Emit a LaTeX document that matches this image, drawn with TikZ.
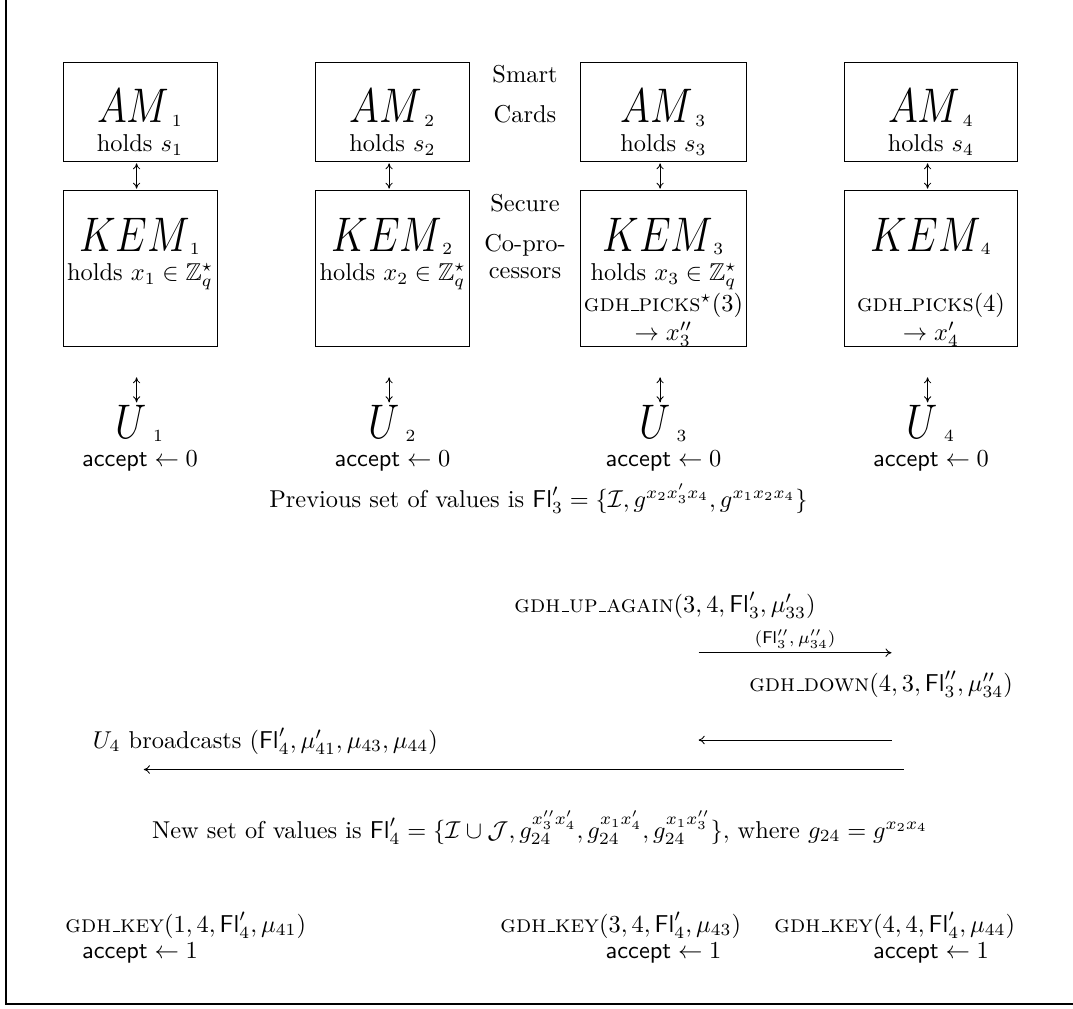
\documentclass[tikz,border=0pt]{standalone}
\usepackage{amsmath,amssymb}
\usepackage{graphicx}
\usepackage{tikz}
\usetikzlibrary{arrows.meta}
\newcommand{\hugeit}[1]{\scalebox{0.8}[0.96]{\huge$#1$}}
\newcommand{\undsc}{\leavevmode\kern.06em\vbox{\hrule width.3em}}

\begin{document}
\begin{tikzpicture}[x=0.41pt,y=-0.41pt,
  box/.style={draw,inner sep=0pt,line width=0.4pt},
  tx/.style={anchor=base,inner sep=0pt},
  ud/.style={{To[length=2.5pt,width=3pt]}-{To[length=2.5pt,width=3pt]},line width=0.35pt},
  msg/.style={-{To[length=2.5pt,width=3.5pt]},line width=0.35pt}]
\useasboundingbox (0,0) rectangle (1073,1008);
\draw[line width=0.6pt] (6,0) -- (6,1004) -- (1073,1004);
% one column per participant
\foreach \i/\cx/\w in {1/140/154,2/392.5/154,3/663.5/166,4/931/173}{
  \node[box,minimum width=\w*0.41pt,minimum height=40.6pt] (am\i) at (\cx,111.8) {};
  \node[tx] (amt\i) at ([yshift=-25pt]am\i.north) {\hugeit{AM}\kern1pt$_{\i}$};
  \node[tx] (amh\i) at ([yshift=-36.9pt]am\i.north) {holds $s_{\i}$};
  \node[box,minimum width=\w*0.41pt,minimum height=63.9pt] (kem\i) at (\cx,268.6) {};
  \node[tx] (kemt\i) at ([yshift=-25pt]kem\i.north) {\hugeit{KEM}$_{\i}$};
  \node[tx] (u\i) at (\cx,438) {\hugeit{U}\kern2.5pt$_{\i}$};
  \node[tx] (acc\i) at (\cx,466) {$\textsf{accept}\leftarrow 0$};
  \draw[ud] ([xshift=-1.4pt,yshift=-0.6pt]am\i.south) -- ([xshift=-1.4pt,yshift=0.6pt]kem\i.north);
  \draw[ud] ([xshift=-1.4pt,yshift=-12.4pt]kem\i.south) -- ([xshift=-1.4pt,yshift=0.8pt]u\i.north);
}
\foreach \i in {1,2,3}
  \node[tx] (kemh\i) at ([yshift=-37pt]kem\i.north) {holds $x_{\i}\in\mathbb{Z}_q^\star$};
\node[tx] (pick3) at ([yshift=-49.7pt]kem3.north) {\textsc{gdh\undsc picks}$^\star(3)$};
\node[tx] (out3) at ([yshift=-61.6pt]kem3.north) {$\rightarrow x''_3$};
\node[tx] (pick4) at ([yshift=-49.7pt]kem4.north) {\textsc{gdh\undsc picks}$(4)$};
\node[tx] (out4) at ([yshift=-61.6pt]kem4.north) {$\rightarrow x'_4$};
% row labels
\node[tx] (smart) at (525,82) {Smart};
\node[tx] (cards) at (525,122) {Cards};
\node[tx] (secure) at (525,211) {Secure};
\node[tx] (copro) at (525,251) {Co-pro-};
\node[tx] (cessors) at (525,278) {cessors};
\node[tx] (prev) at (538.5,507) {Previous set of values is $\mathsf{Fl}'_3=\{\mathcal{I},g^{x_2x'_3x_4},g^{x_1x_2x_4}\}$};
% messages
\node[tx,anchor=base west] (upagain) at (514,612) {\textsc{gdh\undsc up\undsc again}$(3,4,\mathsf{Fl}'_3,\mu'_{33})$};
\coordinate (s3) at (698.6,652.7);
\coordinate (r4) at (891.5,652.7);
\draw[msg] (s3) -- node[above,inner sep=1.5pt,font=\scriptsize] {$(\mathsf{Fl}''_3,\mu''_{34})$} (r4);
\node[tx,anchor=base east] (down) at (1013.3,691) {\textsc{gdh\undsc down}$(4,3,\mathsf{Fl}''_3,\mu''_{34})$};
\coordinate (s4) at (891.5,740);
\coordinate (r3) at (698.6,740);
\draw[msg] (s4) -- (r3);
\node[tx,anchor=base west] (bcast) at (92.5,748) {$U_4$ broadcasts $(\mathsf{Fl}'_4,\mu'_{41},\mu_{43},\mu_{44})$};
\coordinate (b4) at (903.6,769.5);
\coordinate (b1) at (143.8,769.5);
\draw[msg] (b4) -- (b1);
\node[tx] (new) at (540,838) {New set of values is $\mathsf{Fl}'_4=\{\mathcal{I}\cup\mathcal{J},g_{24}^{x''_3x'_4},g_{24}^{x_1x'_4},g_{24}^{x_1x''_3}\},$ where $g_{24}=g^{x_2x_4}$};
% final keys
\node[tx,anchor=base west] (key1) at (65,932) {\textsc{gdh\undsc key}$(1,4,\mathsf{Fl}'_4,\mu_{41})$};
\node[tx,anchor=base west] (key3) at (500,932) {\textsc{gdh\undsc key}$(3,4,\mathsf{Fl}'_4,\mu_{43})$};
\node[tx,anchor=base west] (key4) at (774,932) {\textsc{gdh\undsc key}$(4,4,\mathsf{Fl}'_4,\mu_{44})$};
\foreach \i/\cx in {1/140,3/663.5,4/931}
  \node[tx] (fin\i) at (\cx,958) {$\textsf{accept}\leftarrow 1$};
\end{tikzpicture}
\end{document}
